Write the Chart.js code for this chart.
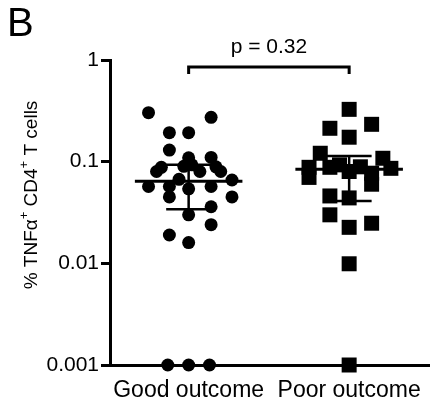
<!DOCTYPE html>
<html>
<head>
<meta charset="utf-8">
<script src="https://cdn.jsdelivr.net/npm/chart.js@4"></script>
<style>
  html, body { margin: 0; padding: 0; background: #fff; }
</style>
</head>
<body>
<canvas id="myChart" width="440" height="405"></canvas>
<script>
// Categories and data (log-scale % values)
const groups = ['Good outcome', 'Poor outcome'];

const goodValues = [0.303, 0.273, 0.193, 0.193, 0.130, 0.109, 0.110, 0.088, 0.080, 0.090,
                    0.093, 0.080, 0.089, 0.080, 0.067, 0.066, 0.057, 0.057, 0.054, 0.057,
                    0.045, 0.045, 0.036, 0.030, 0.024, 0.019, 0.016, 0.001, 0.001, 0.001];
// horizontal scatter of each dot, in category units
const goodJitter = [-0.25, 0.14, -0.12, 0.0, -0.12, 0.0, 0.14, -0.17, -0.2, -0.03,
                    0.02, 0.07, 0.17, 0.2, -0.06, 0.27, -0.25, -0.12, 0.0, 0.14,
                    -0.12, 0.27, 0.14, 0.0, 0.14, -0.12, 0.0, -0.13, 0.0, 0.13];

const poorValues = [0.327, 0.213, 0.233, 0.174, 0.121, 0.108, 0.088, 0.070, 0.088, 0.093,
                    0.080, 0.089, 0.077, 0.060, 0.086, 0.046, 0.044, 0.030, 0.0226, 0.0248,
                    0.0099, 0.001];
const poorJitter = [0.0, -0.12, 0.14, 0.0, -0.18, 0.21, -0.25, -0.25, -0.12, -0.06,
                    0.0, 0.07, 0.14, 0.14, 0.26, -0.12, 0.0, -0.12, 0.0, 0.14,
                    0.0, 0.0];

// mean with error bars
const groupMean = [0.064, 0.084];
const groupUpper = [0.093, 0.114];
const groupLower = [0.034, 0.041];

const yTicks = [1, 0.1, 0.01, 0.001];
const pLabel = 'p = 0.32';
const panelLabel = 'B';

const FONT = "'Liberation Sans', Arial, sans-serif";
Chart.defaults.font.family = FONT;
Chart.defaults.color = '#000';

// extra drawing: mean/error bars, bracket, panel letter, y title
const extras = {
    id: 'extras',
    afterDatasetsDraw(chart) {
        const ctx = chart.ctx;
        const x = chart.scales.x;
        const y = chart.scales.y;
        ctx.save();
        ctx.strokeStyle = '#000';
        ctx.lineCap = 'butt';
        groups.forEach((g, i) => {
            const cx = x.getPixelForValue(i);
            const pm = y.getPixelForValue(groupMean[i]);
            const pu = y.getPixelForValue(groupUpper[i]);
            const pl = y.getPixelForValue(groupLower[i]);
            const half = x.getPixelForValue(i + 0.335) - cx;
            const cap = x.getPixelForValue(i + 0.14) - cx;
            ctx.lineWidth = 3;
            ctx.beginPath();
            ctx.moveTo(cx - half, pm); ctx.lineTo(cx + half, pm);
            ctx.stroke();
            ctx.lineWidth = 2.5;
            ctx.beginPath();
            ctx.moveTo(cx, pu); ctx.lineTo(cx, pl);
            ctx.moveTo(cx - cap, pu); ctx.lineTo(cx + cap, pu);
            ctx.moveTo(cx - cap, pl); ctx.lineTo(cx + cap, pl);
            ctx.stroke();
        });

        // significance bracket
        const x0 = x.getPixelForValue(0);
        const x1 = x.getPixelForValue(1);
        const top = y.getPixelForValue(1);
        ctx.lineWidth = 3;
        ctx.beginPath();
        ctx.moveTo(x0, top + 14);
        ctx.lineTo(x0, top + 7);
        ctx.lineTo(x1, top + 7);
        ctx.lineTo(x1, top + 14);
        ctx.stroke();
        ctx.fillStyle = '#000';
        ctx.textAlign = 'center';
        ctx.textBaseline = 'alphabetic';
        ctx.font = '21px ' + FONT;
        ctx.fillText(pLabel, (x0 + x1) / 2, top - 7);

        // panel letter
        ctx.textAlign = 'left';
        ctx.font = '40px ' + FONT;
        ctx.fillText(panelLabel, 7, 36);

        // y axis title with superscripts
        const parts = [['% TNF', 0], ['α', 0], ['+', 1], [' CD4', 0], ['+', 1], [' T cells', 0]];
        ctx.translate(32, 195);
        ctx.rotate(-Math.PI / 2);
        ctx.textBaseline = 'middle';
        let total = 0;
        parts.forEach(p => {
            ctx.font = (p[1] ? '13px ' : '19px ') + FONT;
            total += ctx.measureText(p[0]).width;
        });
        let pos = -total / 2;
        parts.forEach(p => {
            ctx.font = (p[1] ? '13px ' : '19px ') + FONT;
            ctx.fillText(p[0], pos, p[1] ? -8 : 0);
            pos += ctx.measureText(p[0]).width;
        });
        ctx.restore();
    }
};

const ctx = document.getElementById('myChart').getContext('2d');
const chart = new Chart(ctx, {
    type: 'scatter',
    data: {
        datasets: [{
            label: groups[0],
            data: goodValues.map((v, i) => ({ x: 0 + goodJitter[i], y: v })),
            pointStyle: 'circle',
            pointRadius: 6.5,
            backgroundColor: '#000',
            borderColor: '#000',
            borderWidth: 0,
            clip: false
        }, {
            label: groups[1],
            data: poorValues.map((v, i) => ({ x: 1 + poorJitter[i], y: v })),
            pointStyle: 'rect',
            pointRadius: 10.6,
            backgroundColor: '#000',
            borderColor: '#000',
            borderWidth: 0,
            clip: false
        }]
    },
    options: {
        responsive: false,
        devicePixelRatio: 1,
        animation: false,
        layout: { padding: { left: 0, right: 7, top: 60, bottom: 0 } },
        plugins: {
            legend: { display: false },
            tooltip: { enabled: false }
        },
        scales: {
            x: {
                type: 'linear',
                min: -0.49,
                max: 1.5,
                afterBuildTicks: (scale) => { scale.ticks = groups.map((g, i) => ({ value: i })); },
                afterFit: (scale) => { scale.height = 40; },
                ticks: {
                    font: { size: 23 },
                    padding: 9,
                    maxRotation: 0,
                    callback: (v) => groups[v]
                },
                grid: { drawOnChartArea: false, tickLength: 3, color: '#000', lineWidth: 2 },
                border: { color: '#000', width: 3 }
            },
            y: {
                type: 'logarithmic',
                min: 0.001,
                max: 1,
                afterBuildTicks: (scale) => { scale.ticks = yTicks.map(v => ({ value: v })); },
                afterFit: (scale) => { scale.width = 110; },
                ticks: {
                    font: { size: 21 },
                    padding: 2,
                    callback: (v) => String(v)
                },
                grid: { drawOnChartArea: false, tickLength: 9, color: '#000', lineWidth: 3 },
                border: { color: '#000', width: 3 }
            }
        }
    },
    plugins: [extras]
});
</script>
</body>
</html>
